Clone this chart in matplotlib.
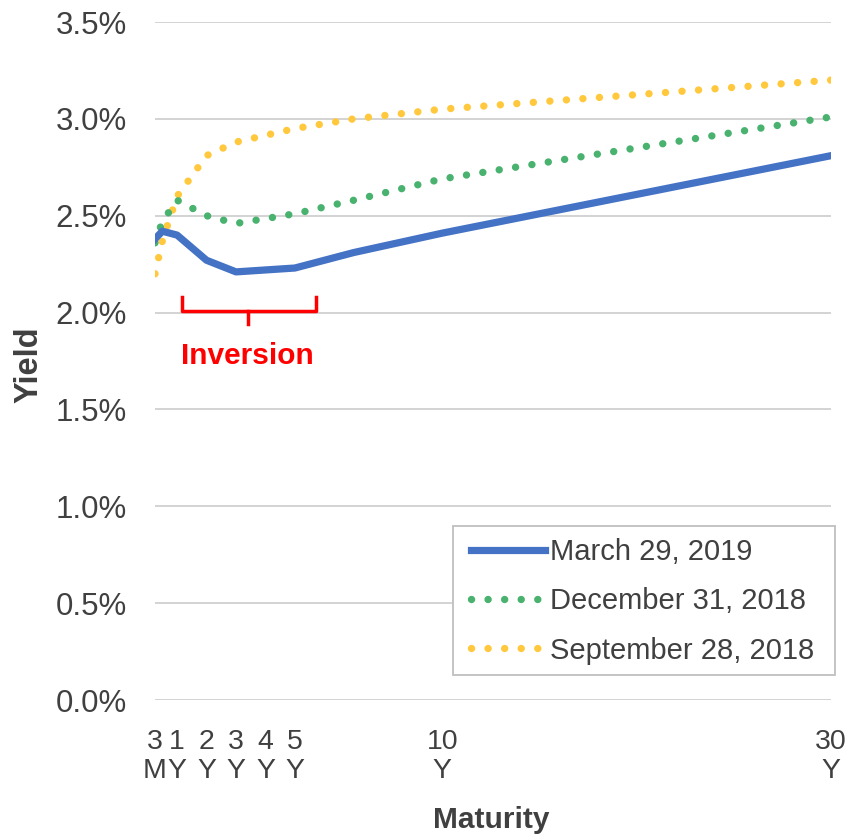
import numpy as np
import matplotlib
matplotlib.use("Agg")
import matplotlib.pyplot as plt
from matplotlib.patches import Rectangle

plt.rcParams['font.family'] = ['Liberation Sans', 'DejaVu Sans']

# maturities in years
tenors = [0.25, 0.5, 1, 2, 3, 5, 7, 10, 30]
mar_2019 = [2.38, 2.42, 2.40, 2.27, 2.21, 2.23, 2.31, 2.41, 2.81]
dec_2018 = [2.36, 2.47, 2.58, 2.50, 2.46, 2.51, 2.58, 2.69, 3.01]
sep_2018 = [2.20, 2.37, 2.60, 2.81, 2.88, 2.95, 3.00, 3.05, 3.20]

tick_pos = [0.25, 1, 2, 3, 4, 5, 10, 30]
tick_lbl = ['3\nM', '1\nY', '2\nY', '3\nY', '4\nY', '5\nY', '10\nY', '30\nY']

TXT = '#404040'
K = 0.66  # the axis gets compressed past 10Y


def fwd(x):
    x = np.asarray(x, dtype=float)
    return np.where(x <= 10, x, 10 + (x - 10) * K)


def inv(y):
    y = np.asarray(y, dtype=float)
    return np.where(y <= 10, y, 10 + (y - 10) / K)


fig = plt.figure(figsize=(8.66, 8.36), dpi=100)
ax = fig.add_axes([155 / 866, 136 / 836, 676 / 866, 678 / 836])
ax.set_xscale('function', functions=(fwd, inv))

dots = (0, (0.01, 2.24))
ax.plot(tenors, sep_2018, color='#FFC83D', lw=5.3, ls=dots,
        dash_capstyle='round', label='September 28, 2018', zorder=3)
ax.plot(tenors, dec_2018, color='#48B26E', lw=5.3, ls=dots,
        dash_capstyle='round', label='December 31, 2018', zorder=4)
ax.plot(tenors, mar_2019, color='#4472C4', lw=5.2, solid_joinstyle='round',
        label='March 29, 2019', zorder=5)

ax.set_xlim(0.25, 30)
ax.set_ylim(0, 3.5)
ax.set_yticks(np.arange(0, 3.51, 0.5))
ax.set_yticklabels([f'{v:.1f}%' for v in np.arange(0, 3.51, 0.5)])
ax.set_xticks(tick_pos)
ax.set_xticklabels(tick_lbl, linespacing=1.15)
ax.xaxis.set_minor_locator(matplotlib.ticker.NullLocator())
ax.tick_params(axis='both', length=0, colors=TXT)
ax.tick_params(axis='y', pad=20, labelsize=22.5)
ax.tick_params(axis='x', pad=21, labelsize=20.5)
ax.grid(axis='y', color='#D0D0D0', lw=1.3)
ax.set_axisbelow(True)
for s in ax.spines.values():
    s.set_visible(False)

# inversion bracket
br_x = [1.15, 1.15, 5.7, 5.7]
br_y = [2.08, 2.01, 2.01, 2.08]
ax.plot(br_x, br_y, color='#FF0000', lw=2.5, solid_joinstyle='round', clip_on=False)
ax.plot([3.4, 3.4], [2.01, 1.94], color='#FF0000', lw=2.5, clip_on=False)
ax.text(3.4, 1.776, 'Inversion', color='#FF0000', fontsize=21.5, fontweight='bold',
        ha='center', va='center')

# legend frame drawn separately so the padding can match
ax.add_patch(Rectangle((453 / 866, 1 - 675 / 836), 382 / 866, 149 / 836,
                       transform=fig.transFigure, facecolor='white',
                       edgecolor='#BFBFBF', lw=1.3, zorder=6, clip_on=False))
h, l = ax.get_legend_handles_labels()
leg = ax.legend(h[::-1], l[::-1], loc='upper left', bbox_to_anchor=(471 / 866, 1 - 538 / 836),
                bbox_transform=fig.transFigure, fontsize=21, frameon=False,
                handlelength=2.55, handletextpad=0.17, labelspacing=0.73,
                borderpad=0, borderaxespad=0)
leg.set_zorder(7)
for t in leg.get_texts():
    t.set_color(TXT)

fig.text(29 / 866, 1 - 365 / 836, 'Yield', rotation=90, fontsize=23.5, fontweight='bold',
         color=TXT, ha='center', va='center')
fig.text(491 / 866, 1 - 820 / 836, 'Maturity', fontsize=21.5, fontweight='bold',
         color=TXT, ha='center', va='center')

fig.savefig('out.png', dpi=100)
